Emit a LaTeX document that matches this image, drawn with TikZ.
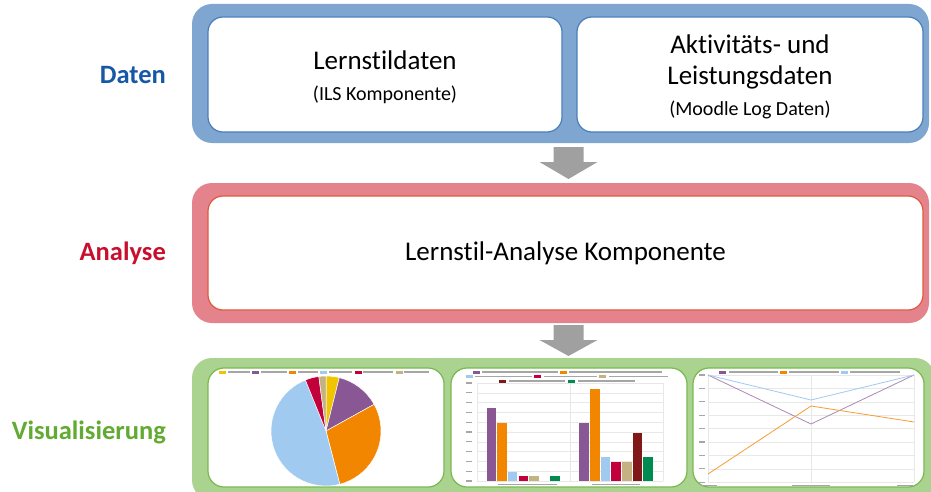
\documentclass[tikz,border=0pt]{standalone}
\usepackage{fontspec}
\setmainfont{Carlito}[Ligatures=NoCommon]
\definecolor{bandblue}{RGB}{126,166,208}
\definecolor{lineblue}{RGB}{74,126,187}
\definecolor{bandred}{RGB}{229,131,140}
\definecolor{linered}{RGB}{220,90,60}
\definecolor{bandgreen}{RGB}{169,211,142}
\definecolor{linegreen}{RGB}{122,184,80}
\definecolor{datenblue}{RGB}{23,88,166}
\definecolor{analysered}{RGB}{200,16,46}
\definecolor{visgreen}{RGB}{98,170,50}
\definecolor{arrowgray}{RGB}{160,160,160}
\definecolor{cpurple}{RGB}{137,87,148}
\definecolor{corange}{RGB}{243,134,0}
\definecolor{clblue}{RGB}{161,202,241}
\definecolor{cred}{RGB}{194,0,60}
\definecolor{ctan}{RGB}{196,178,128}
\definecolor{cdred}{RGB}{128,24,24}
\definecolor{cgreen}{RGB}{0,140,80}
\definecolor{cyellow}{RGB}{241,196,0}
\begin{document}
\begin{tikzpicture}[x=1pt,y=-1pt,
  band/.style={rectangle, rounded corners=20pt, inner sep=0pt, draw=none},
  inbox/.style={rectangle, rounded corners=15pt, fill=white, inner sep=0pt, line width=1.2pt},
  boxtext/.style={align=center, inner sep=0pt, font=\fontsize{27}{31}\selectfont},
  panel/.style={rectangle, rounded corners=16pt, fill=white, draw=linegreen, inner sep=0pt, line width=1.2pt, minimum height=119pt},
  lbl/.style={anchor=east, inner sep=0pt, font=\fontsize{26.5}{30}\selectfont\bfseries},
  gridln/.style={draw=black!9, line width=0.4pt},
  txt/.style={fill=black!35},
  blockarrow/.style={fill=arrowgray}]
\useasboundingbox (0,0) rectangle (931,492);

% ---- Daten
\node[band, fill=bandblue, minimum width=737pt, minimum height=139pt] (dband) at (560.5,73.5) {};
\node[inbox, draw=lineblue, minimum width=354pt, minimum height=115pt] (lern) at (385,74.5) {};
\node[inbox, draw=lineblue, minimum width=346pt, minimum height=115pt] (akt) at (750,74.5) {};
\node[boxtext] (lerntext) at ([yshift=-3pt]lern.center)
  {Lernstildaten\\{\fontsize{20}{31}\selectfont(ILS Komponente)}};
\node[boxtext] (akttext) at ([yshift=-2.5pt]akt.center)
  {Aktivitäts- und\\Leistungsdaten\\{\fontsize{20}{29}\selectfont(Moodle Log Daten)}};

% ---- Analyse
\node[band, fill=bandred, minimum width=737pt, minimum height=140pt] (aband) at (560.5,253) {};
\node[inbox, draw=linered, minimum width=715pt, minimum height=114pt] (ana) at (565.5,253) {};
\node[boxtext] (anatext) at (ana.center) {Lernstil-Analyse Komponente};

% ---- Visualisierung
\node[band, fill=bandgreen, minimum width=743pt, minimum height=142pt] (vband) at (563.5,429) {};
\node[panel, minimum width=236pt] (p1) at (326,427.5) {};
\node[panel, minimum width=236pt] (p2) at (569,427.5) {};
\node[panel, minimum width=231pt] (p3) at (808.5,427.5) {};

% ---- labels
\node[lbl, text=datenblue] (ldaten) at (166,75) {Daten};
\node[lbl, text=analysered] (lana) at (166,253) {Analyse};
\node[lbl, text=visgreen] (lvis) at (166,432) {Visualisierung};

% ---- block arrows
\coordinate (ar1) at (568.5,147);
\coordinate (ar2) at (568.5,325);
\foreach \c/\h in {ar1/17, ar2/16}
  \fill[blockarrow] (\c) ++(-15,0) -- ++(30,0) -- ++(0,15) -- ++(14,0) -- ++(-29,\h) -- ++(-29,-\h) -- ++(14,0) -- cycle;

% ---- pie chart
\foreach \a/\b/\c in {-90/-76/cyellow, -76/-29/cpurple, -29/75.5/corange, 75.5/248/clblue, 248/262.5/cred, 262.5/270/ctan}
  \filldraw[fill=\c, draw=white, line width=0.5pt] (326,431) -- ++(\a:55) arc[start angle=\a, end angle=\b, radius=55] -- cycle;
\foreach \s/\c in {219/cyellow, 252/cpurple, 289/corange, 320/clblue, 355/cred, 396/ctan}
  \fill[\c] (\s,370.5) rectangle ++(7,3);
\foreach \s/\e in {228/250, 261/287, 298/318, 329/352, 363/393, 404/429}
  \fill[txt] (\s,371.3) rectangle (\e,372.7);

% ---- bar chart
\foreach \k in {0,...,10} {
  \draw[gridln] (477,383+\k*9.8) -- (663,383+\k*9.8);
  \fill[txt] (466,382.4+\k*9.8) rectangle (472,383.6+\k*9.8);
}
\draw[gridln] (477,383) -- (477,481);
\draw[gridln] (570,383) -- (570,481);
\draw[gridln] (663,383) -- (663,481);
\foreach \x/\w/\t/\c in {487/9/408/cpurple, 497/10/423/corange, 508/9/472/clblue, 519/9/476/cred, 529/10/476/ctan, 550/10/476/cgreen,
  579/10/423/cpurple, 590/10/389/corange, 601/9/457/clblue, 611/10/462/cred, 622/10/462/ctan, 633/9/433/cdred, 643/10/457/cgreen}
  \fill[\c] (\x,481) rectangle ++(\w,\t-481);
\foreach \s/\y/\c in {473/372/cpurple, 560/372/corange, 466/376.5/clblue, 534/376.5/cred, 599/376.5/ctan, 499/381/cdred, 568/381/cgreen}
  \fill[\c] (\s,\y-1.5) rectangle ++(7,3);
\foreach \s/\e/\y in {482/558/372, 569/662/372, 475/532/376.5, 544/597/376.5, 609/668/376.5, 509/565/381, 578/635/381}
  \fill[txt] (\s,\y-0.7) rectangle (\e,\y+0.7);
\fill[txt] (498,483.5) rectangle (557,484.9);
\fill[txt] (592,483.5) rectangle (640,484.9);

% ---- line chart
\foreach \k in {0,...,8} {
  \draw[gridln] (708,375+\k*13.4) -- (914,375+\k*13.4);
  \fill[txt] (699,374.4+\k*13.4) rectangle (705,375.6+\k*13.4);
}
\foreach \x in {708,811,914} \draw[gridln] (\x,375) -- (\x,482);
\draw[cpurple!70, line width=0.8pt] (708,375) -- (811,424) -- (914,375);
\draw[corange!80, line width=0.8pt] (708,474) -- (811,406) -- (914,422);
\draw[clblue, line width=0.8pt] (708,375) -- (811,400) -- (914,375);
\foreach \s/\c in {719/cpurple, 780/corange, 841/clblue}
  \fill[\c] (\s,370.5) rectangle ++(7,3);
\foreach \s/\e in {729/778, 789/839, 850/900}
  \fill[txt] (\s,371.3) rectangle (\e,372.7);
\fill[txt] (701,484.5) rectangle (717,485.9);
\fill[txt] (792,484.5) rectangle (830,485.9);
\fill[txt] (897,484.5) rectangle (913,485.9);
\end{tikzpicture}
\end{document}
